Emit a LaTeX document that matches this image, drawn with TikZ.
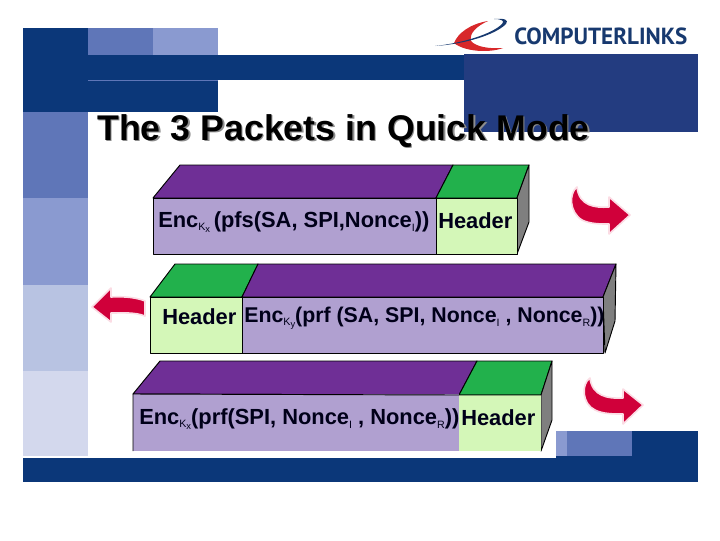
\documentclass[tikz,border=0pt]{standalone}
\usepackage{fontspec}
\setmainfont{Liberation Sans}
\newfontfamily\logofont{PT Sans}
\definecolor{dkblue}{HTML}{0B3779}
\definecolor{boxblue}{HTML}{233C80}
\definecolor{medblue}{HTML}{5F76B8}
\definecolor{ltblue}{HTML}{8A9AD0}
\definecolor{palea}{HTML}{B8C3E2}
\definecolor{paleb}{HTML}{D3D8ED}
\definecolor{enclilac}{HTML}{B0A0D0}
\definecolor{hdrgreen}{HTML}{D4F7B8}
\definecolor{toppurple}{HTML}{6F2F96}
\definecolor{topgreen}{HTML}{22B14C}
\definecolor{sidegray}{HTML}{7F7F7F}
\definecolor{arrowred}{HTML}{D0003A}
\definecolor{arrowglow}{HTML}{FBDCE4}
\definecolor{logored}{HTML}{D8282A}
\definecolor{logoblue}{HTML}{17396F}
\newcommand{\subk}[2]{\raisebox{-2.6pt}{\fontsize{8}{8}\selectfont\mdseries #1\raisebox{-1.6pt}{\fontsize{7}{7}\selectfont #2}}}
\newcommand{\subs}[1]{\raisebox{-3pt}{\fontsize{8}{8}\selectfont\mdseries #1}}
\tikzset{
  fillb/.style={fill=#1,draw=none},
  face/.style={fill=#1,draw=black,line width=0.7pt,line join=round},
  pkt/.style={anchor=base west,inner sep=0pt,font=\fontsize{#1}{#1}\selectfont\bfseries,text=black!90!blue},
  titletext/.style={anchor=base west,inner sep=0pt,font=\fontsize{26.8}{28}\selectfont\bfseries},
  redarrow/.style={fill=arrowred,draw=arrowglow,line width=1.2pt,line join=round},
  edgeline/.style={draw=black,line width=0.7pt},
}
\begin{document}
\begin{tikzpicture}[x=0.75pt,y=-0.75pt]
\useasboundingbox (0,0) rectangle (720,540);
\fill[white] (0,0) rectangle (720,540);
% slide background
\fill[fillb=dkblue] (23,28) rectangle (88,112);
\fill[fillb=dkblue] (88,55) rectangle (466,80);
\fill[fillb=dkblue] (88,81) rectangle (218,112);
\fill[fillb=medblue] (88,80) rectangle (218,81);
\fill[fillb=medblue] (88,28) rectangle (153,55);
\fill[fillb=ltblue] (153,28) rectangle (218,55);
\fill[fillb=medblue] (23,112) rectangle (88,198);
\fill[fillb=ltblue] (23,198) rectangle (88,285);
\fill[fillb=palea] (23,285) rectangle (88,371);
\fill[fillb=paleb] (23,371) rectangle (88,456);
\fill[fillb=dkblue] (23,458) rectangle (698,482);
\fill[fillb=dkblue] (556,431) rectangle (698,458);
\fill[fillb=ltblue] (556,431) rectangle (567,456);
\fill[fillb=medblue] (567,431) rectangle (632,456);
\fill[fillb=boxblue] (464,54) rectangle (698,132);
\fill[white] (133,451) rectangle (556,458);
% logo
\fill[logored] (488,21) .. controls (470,24) and (458,33) .. (454,43) .. controls (465,52) and (490,53) .. (503,48) .. controls (490,49) and (476,47) .. (471,41) .. controls (469,33) and (477,26) .. (488,21) -- cycle;
\fill[logoblue] (435,46) .. controls (465,44) and (495,35) .. (506,24) .. controls (509,20) and (505,18) .. (494,19) .. controls (502,19) and (505,21) .. (502,24) .. controls (492,34) and (463,43) .. (435,46) -- cycle;
\node[anchor=base west,inner sep=0pt,text=logoblue,xscale=0.99,font=\logofont\bfseries\fontsize{17.5}{18}\selectfont] (logo) at (514,44.5) {COMPUTERLINKS};
% title
\node[titletext,text=black!45] (titleshadow) at (98.5,141.5) {The 3 Packets in Quick Mode};
\node[titletext,text=black] (title) at (97,140) {The 3 Packets in Quick Mode};
% packet 1
\draw[face=toppurple] (153,198) -- (180,165) -- (453,165) -- (436,198) -- cycle;
\draw[face=topgreen] (436,198) -- (453,165) -- (529,165) -- (517,198) -- cycle;
\draw[face=sidegray] (517,198) -- (529,165) -- (529,222) -- (517,254) -- cycle;
\draw[face=enclilac] (153,198) rectangle (436,254);
\draw[face=hdrgreen] (436,198) rectangle (517,254);
\node[pkt=16.4] (enca) at (158,227) {Enc\subk{K}{x}\,(pfs(SA, SPI,Nonce\subs{I}))};
\node[pkt=16.4] (hdra) at (438,228) {Header};
% packet 2
\draw[face=topgreen] (150,297) -- (175,264) -- (258,264) -- (242,297) -- cycle;
\draw[face=toppurple] (242,297) -- (258,264) -- (616,264) -- (603,297) -- cycle;
\draw[face=sidegray] (603,297) -- (616,264) -- (615,321) -- (605,353) -- cycle;
\draw[face=hdrgreen] (150,297) rectangle (242,353);
\draw[face=enclilac] (242,297) rectangle (603,353);
\node[pkt=16.4] (hdrb) at (162,324) {Header};
\node[pkt=16] (encb) at (244,322) {Enc\subk{K}{y}(prf (SA, SPI, Nonce\subs{I} , Nonce\subs{R}))};
% packet 3
\draw[face=toppurple] (133,394) -- (160,361) -- (477,361) -- (459,395) -- cycle;
\draw[face=topgreen] (459,395) -- (477,361) -- (552,361) -- (541,395) -- cycle;
\draw[face=sidegray] (541,395) -- (552,361) -- (552,420) -- (541,451) -- cycle;
\fill[fillb=enclilac] (133,394) rectangle (459,451);
\fill[fillb=hdrgreen] (459,395) rectangle (541,451);
\draw[edgeline] (133,451) -- (133,394) -- (459,395) -- (541,395);
\node[pkt=16.4] (encc) at (139,424) {Enc\subk{K}{x}(prf(SPI, Nonce\subs{I} , Nonce\subs{R}))};
\node[pkt=16.4] (hdrc) at (461,425) {Header};
% arrows
\fill[white] (88,285) rectangle (145,336);
\draw[redarrow] (577,187) .. controls (569,193) and (569,212) .. (582,220) .. controls (590,224) and (600,224) .. (609,224) -- (609,234) -- (630,215) -- (609,197) -- (609,207) .. controls (595,208) and (579,206) .. (577,187) -- cycle;
\draw[redarrow] (92,307) -- (111,288) -- (111,297) .. controls (125,296) and (138,298) .. (145,301) -- (145,316) .. controls (135,312) and (122,313) .. (111,313) -- (111,322) -- cycle;
\draw[redarrow] (590,378) .. controls (581,384) and (582,404) .. (595,410) .. controls (603,414) and (613,414) .. (623,414) -- (623,424) -- (643,405) -- (623,389) -- (623,398) .. controls (608,399) and (592,396) .. (590,378) -- cycle;
\end{tikzpicture}
\end{document}
